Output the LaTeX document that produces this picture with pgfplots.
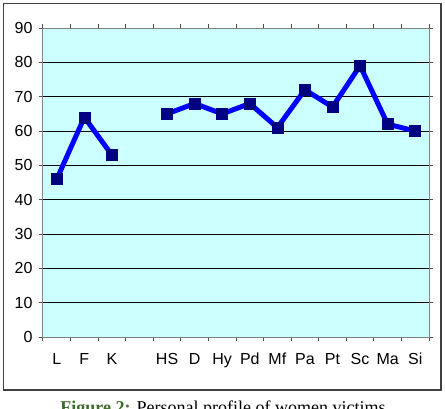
\documentclass[border=0pt]{standalone}
\usepackage{pgfplots}
\pgfplotsset{compat=1.18}
\usepackage{fontspec}
\setmainfont{Liberation Sans}
\newfontfamily\seriffont{Liberation Serif}
\definecolor{bgcyan}{HTML}{CCFFFF}
\definecolor{lineblue}{HTML}{0000FF}
\definecolor{marknavy}{HTML}{000080}
\definecolor{capgreen}{HTML}{3E6B2A}
\begin{document}
\begin{tikzpicture}[x=1pt,y=1pt]
\clip (0,0) rectangle (445,408);
\fill[white] (0,0) rectangle (445,408);
\draw[line width=1.4pt, black!75] (3.5,18) rectangle (441,404.5);
\begin{axis}[
  at={(43pt,71pt)}, anchor=south west,
  scale only axis, width=386pt, height=309pt,
  xmin=-0.5, xmax=13.5, ymin=0, ymax=90,
  axis background/.style={fill=bgcyan},
  axis line style={black!50, line width=1pt},
  xtick={0,1,2,3,4,5,6,7,8,9,10,11,12,13},
  xticklabels={L,F,K,,HS,D,Hy,Pd,Mf,Pa,Pt,Sc,Ma,Si},
  minor xtick={-0.5,0.5,...,13.5},
  major x tick style={draw=none},
  minor x tick style={black!70, line width=1pt},
  ytick={0,10,...,90},
  y tick style={black!70, line width=1pt},
  tick align=outside,
  major tick length=4pt, minor tick length=4pt,
  ymajorgrids, grid style={black, line width=0.8pt},
  tick label style={font=\fontsize{16}{18}\selectfont},
  /pgf/number format/assume math mode=true,
  xticklabel style={anchor=base, inner sep=0pt, yshift=-23pt},
  yticklabel style={xshift=-3pt},
  clip=false,
]
\addplot[lineblue, line width=5pt, mark=square*, mark size=5.5pt,
  mark options={fill=marknavy, draw=marknavy, line width=0.5pt}]
  coordinates {(0,46) (1,64) (2,53)};
\addplot[lineblue, line width=5pt, mark=square*, mark size=5.5pt,
  mark options={fill=marknavy, draw=marknavy, line width=0.5pt}]
  coordinates {(4,65) (5,68) (6,65) (7,68) (8,61) (9,72) (10,67) (11,79) (12,62) (13,60)};
\end{axis}
\node[anchor=base, inner sep=0pt] at (223,-5) {\seriffont\fontsize{18}{20}\selectfont\textcolor{capgreen}{\textbf{Figure 2:}} Personal profile of women victims};
\end{tikzpicture}
\end{document}
